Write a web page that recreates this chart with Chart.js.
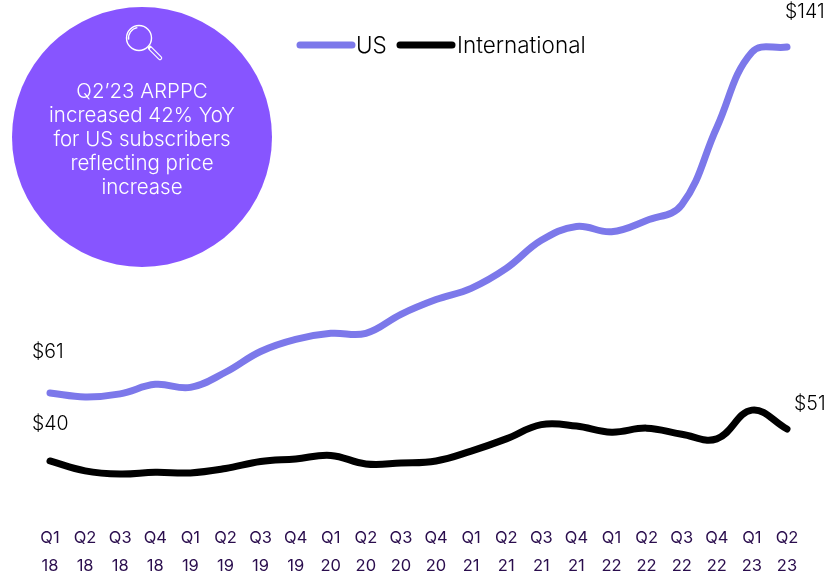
<!DOCTYPE html>
<html>
<head>
<meta charset="utf-8">
<title>ARPPC</title>
<script src="https://cdn.jsdelivr.net/npm/chart.js@4/dist/chart.umd.min.js"></script>
<style>
  html, body { margin: 0; padding: 0; background: #fff; }
  #wrap { position: relative; width: 827px; height: 573px; }
</style>
</head>
<body>
<div id="wrap"><canvas id="arppcChart" width="827" height="573"></canvas></div>
<script>
const quarters = ["Q1","Q2","Q3","Q4","Q1","Q2","Q3","Q4","Q1","Q2","Q3","Q4","Q1","Q2","Q3","Q4","Q1","Q2","Q3","Q4","Q1","Q2"];
const years = ["18","18","18","18","19","19","19","19","20","20","20","20","21","21","21","21","22","22","22","22","23","23"];
const usValues = [61, 60.1, 60.8, 63, 62.3, 65.8, 70.6, 73.4, 74.8, 74.8, 79.2, 82.6, 85.2, 89.8, 96.3, 99.5, 98.3, 100.9, 104.5, 122.4, 139.8, 141];
const intlValues = [40, 36.6, 35.5, 36.1, 35.9, 37.4, 39.8, 40.7, 41.9, 39, 39.3, 40, 43.4, 47.6, 52.5, 52, 49.9, 51.3, 49.2, 47.6, 57.5, 51];
const calloutLines = ["Q2’23 ARPPC", "increased 42% YoY", "for US subscribers", "reflecting price", "increase"];

const FONT = "Inter, Lato, sans-serif";

// end labels, legend and the round callout all go on the canvas after layout
const overlay = {
  id: "overlay",
  beforeDatasetsDraw(chart) {
    const { ctx } = chart;
    ctx.save();
    ctx.fillStyle = "#8755ff";
    ctx.beginPath();
    ctx.arc(142, 137, 130, 0, Math.PI * 2);
    ctx.fill();

    // magnifying glass
    ctx.strokeStyle = "#fff";
    ctx.lineWidth = 1.4;
    ctx.beginPath();
    ctx.arc(139, 38, 12.5, 0, Math.PI * 2);
    ctx.stroke();
    ctx.beginPath();
    ctx.arc(139, 38, 10.5, Math.PI * 0.95, Math.PI * 1.45);
    ctx.stroke();
    ctx.lineWidth = 4.5;
    ctx.lineCap = "round";
    ctx.beginPath();
    ctx.moveTo(150, 48);
    ctx.lineTo(160, 58);
    ctx.stroke();
    ctx.strokeStyle = "#8755ff";
    ctx.lineWidth = 2.2;
    ctx.beginPath();
    ctx.moveTo(151, 49);
    ctx.lineTo(160, 58);
    ctx.stroke();

    ctx.fillStyle = "#fff";
    ctx.font = "300 20.5px " + FONT;
    ctx.textAlign = "center";
    ctx.textBaseline = "alphabetic";
    calloutLines.forEach((line, i) => ctx.fillText(line, 142, 98 + i * 24));
    ctx.restore();
  },
  afterDatasetsDraw(chart) {
    const { ctx } = chart;
    const [us, intl] = [chart.getDatasetMeta(0).data, chart.getDatasetMeta(1).data];
    const last = quarters.length - 1;
    ctx.save();
    ctx.fillStyle = "#000";
    ctx.font = "300 19.5px " + FONT;
    ctx.textBaseline = "alphabetic";
    ctx.textAlign = "left";
    ctx.fillText("$" + usValues[0], us[0].x - 18, us[0].y - 35);
    ctx.fillText("$" + intlValues[0], intl[0].x - 18, intl[0].y - 31);
    ctx.fillText("$" + usValues[last], us[last].x - 2, us[last].y - 29);
    ctx.fillText("$" + intlValues[last], intl[last].x + 7, intl[last].y - 19);

    // legend
    ctx.font = "300 22.5px " + FONT;
    ctx.lineCap = "round";
    ctx.lineWidth = 7;
    const entries = [[300, 352, 356], [400, 452, 457]];
    chart.data.datasets.forEach((ds, i) => {
      const [x0, x1, tx] = entries[i];
      ctx.strokeStyle = ds.borderColor;
      ctx.beginPath();
      ctx.moveTo(x0, 45);
      ctx.lineTo(x1, 45);
      ctx.stroke();
      ctx.fillText(ds.label, tx, 53);
    });
    ctx.restore();
  }
};

new Chart(document.getElementById("arppcChart"), {
  type: "line",
  data: {
    labels: quarters.map((q, i) => [q, years[i]]),
    datasets: [
      { label: "US", data: usValues, borderColor: "#7c78ea", yAxisID: "yUs" },
      { label: "International", data: intlValues, borderColor: "#000", yAxisID: "yIntl" }
    ]
  },
  options: {
    responsive: false,
    animation: false,
    layout: { padding: { left: 50, right: 40, top: 0, bottom: 0 } },
    elements: {
      point: { radius: 0 },
      line: { borderWidth: 7, tension: 0.4, borderCapStyle: "round", borderJoinStyle: "round" }
    },
    datasets: { line: { clip: false } },
    plugins: { legend: { display: false }, tooltip: { enabled: false } },
    scales: {
      x: {
        offset: false,
        grid: { display: false },
        border: { display: false },
        afterFit(scale) { scale.height = 63; },
        ticks: {
          autoSkip: false,
          maxRotation: 0,
          padding: 7,
          color: "#2a0d4d",
          font: { family: FONT, size: 16.5, weight: 400, lineHeight: 1.64 }
        }
      },
      // the two series are plotted on their own hidden scales
      yUs: { display: false, min: 33.95, max: 151.87 },
      yIntl: { display: false, min: 23.15, max: 198.5 }
    }
  },
  plugins: [overlay]
});
</script>
</body>
</html>
